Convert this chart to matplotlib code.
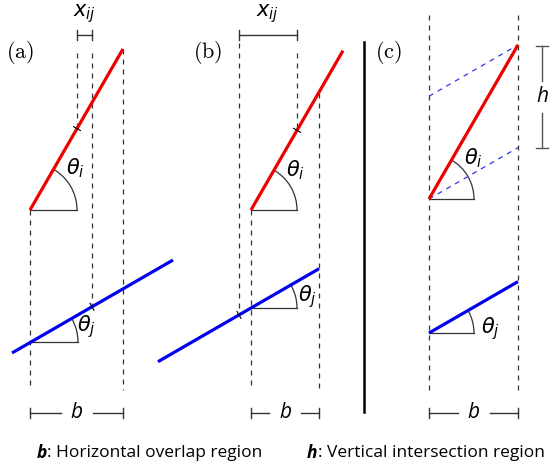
import numpy as np
import matplotlib.pyplot as plt
from matplotlib.patches import Arc

# panel labels and their anchor positions
panels = ['(a)', '(b)', '(c)']
panel_xy = [(20, 52), (208, 52), (388, 52)]

# slope angles (deg)
theta_i = 60
theta_j = 30

# red segment: start point and horizontal run
red_start = [(30, 210), (251, 210), (429, 199)]
red_dx = [93, 92, 89]

# blue segment: angle vertex, left / right x extent
blue_vertex = [(31, 342), (251, 308), (429, 333)]
blue_xlim = [(12, 173), (158, 319), (429, 518)]

arc_r = [47, 46, 45]

# dashed verticals: x, y_top, y_bottom
dash_a = [(30, 210, 390), (77, 53, 129), (92, 53, 307), (123, 49, 390)]
dash_b = [(239, 43, 315), (297, 53, 130), (251, 210, 390), (319, 93, 390)]
dash_c = [(429, 15, 390), (518, 15, 390)]

# x_ij brackets
xij_span = [(77, 92), (239, 297)]
# b brackets
b_span = [(30, 123), (251, 319), (429, 518)]
# h bracket
h_x = 542
h_span = (46, 148)

W, H = 552, 468
fig = plt.figure(figsize=(W / 100, H / 100), dpi=100)
ax = fig.add_axes([0, 0, 1, 1])
ax.set_xlim(0, W)
ax.set_ylim(H, 0)
ax.axis('off')

dcol = '#333333'
tan_i = np.tan(np.radians(theta_i))
tan_j = np.tan(np.radians(theta_j))

for x, y0, y1 in dash_a + dash_b + dash_c:
    ax.plot([x, x], [y0, y1], ls=(0, (4, 4)), c=dcol, lw=0.9)

for k in range(3):
    x0, y0 = red_start[k]
    ax.plot([x0, x0 + red_dx[k]], [y0, y0 - red_dx[k] * tan_i], c='#ee0000', lw=2.3,
            solid_capstyle='butt', zorder=3)
    ax.plot([x0, x0 + arc_r[k]], [y0, y0], c=dcol, lw=0.9)
    ax.add_patch(Arc((x0, y0), 2 * arc_r[k], 2 * arc_r[k], theta1=-theta_i, theta2=0,
                     color=dcol, lw=0.9))

    vx, vy = blue_vertex[k]
    xl, xr = blue_xlim[k]
    ax.plot([xl, xr], [vy + (vx - xl) * tan_j, vy - (xr - vx) * tan_j], c='#0000ee', lw=2.3,
            solid_capstyle='butt', zorder=3)
    ax.plot([vx, vx + arc_r[k]], [vy, vy], c=dcol, lw=0.9)
    ax.add_patch(Arc((vx, vy), 2 * arc_r[k], 2 * arc_r[k], theta1=-theta_j, theta2=0,
                     color=dcol, lw=0.9))

    ax.text(*panel_xy[k], r'$\mathrm{%s}$' % panels[k], fontsize=16, math_fontfamily='cm',
            ha='center', va='center')

# angle labels
ti_xy = [(75, 168), (295, 170), (473, 158)]
tj_xy = [(86, 327), (307, 297), (490, 329)]
for (x, y) in ti_xy:
    ax.text(x, y, r'$\theta_i$', fontsize=15, ha='center', va='center')
for (x, y) in tj_xy:
    ax.text(x, y, r'$\theta_j$', fontsize=15, ha='center', va='center')

# small crossing ticks
def tick(x, y, ang):
    a = np.radians(ang + 90)
    ax.plot([x - 4 * np.cos(a), x + 4 * np.cos(a)], [y + 4 * np.sin(a), y - 4 * np.sin(a)],
            c='k', lw=0.8, zorder=4)

tick(77, red_start[0][1] - (77 - red_start[0][0]) * tan_i, theta_i)
tick(92, blue_vertex[0][1] - (92 - blue_vertex[0][0]) * tan_j, theta_j)
tick(297, red_start[1][1] - (297 - red_start[1][0]) * tan_i, theta_i)
tick(239, blue_vertex[1][1] + (blue_vertex[1][0] - 239) * tan_j, theta_j)

# parallelogram in (c)
cx, cy = red_start[2]
cdx = red_dx[2]
ax.plot([cx, cx + cdx], [cy, cy - cdx * tan_j], ls=(0, (4, 4)), c='#3333ee', lw=0.9)
ax.plot([cx, cx + cdx], [cy - cdx * tan_i + cdx * tan_j, cy - cdx * tan_i],
        ls=(0, (4, 4)), c='#3333ee', lw=0.9)

bcol = '#333333'
# x_ij brackets
for (x0, x1) in xij_span:
    ax.plot([x0, x1], [35, 35], c=bcol, lw=1)
    ax.plot([x0, x0], [30, 40], c=bcol, lw=1)
    ax.plot([x1, x1], [30, 40], c=bcol, lw=1)
    ax.text((x0 + x1) / 2, 14, r'$x_{ij}$', fontsize=15, ha='center', va='center')

# b brackets
for (x0, x1) in b_span:
    xm = (x0 + x1) / 2
    ax.plot([x0, xm - 16], [413, 413], c=bcol, lw=1)
    ax.plot([xm + 16, x1], [413, 413], c=bcol, lw=1)
    ax.plot([x0, x0], [408, 418], c=bcol, lw=1)
    ax.plot([x1, x1], [408, 418], c=bcol, lw=1)
    ax.text(xm, 413, 'b', fontsize=15, style='italic', family='Open Sans',
            ha='center', va='center')

# h bracket
h0, h1 = h_span
hm = (h0 + h1) / 2
ax.plot([h_x, h_x], [h0, hm - 16], c='#555555', lw=1)
ax.plot([h_x, h_x], [hm + 16, h1], c='#555555', lw=1)
ax.plot([h_x - 6, h_x + 6], [h0, h0], c='#555555', lw=1)
ax.plot([h_x - 6, h_x + 6], [h1, h1], c='#555555', lw=1)
ax.text(h_x, hm, 'h', fontsize=15, style='italic', family='Open Sans',
        ha='center', va='center')

# divider
ax.plot([364, 364], [42, 412], c='k', lw=1.8)

# footnotes
notes = [(37, 'b', ': Horizontal overlap region'), (307, 'h', ': Vertical intersection region')]
for x, sym, txt in notes:
    t = ax.text(x, 453, sym, fontsize=12.5, style='italic', weight='bold', family='Open Sans',
                va='center')
    ax.annotate(txt, xy=(1, 0.5), xycoords=t, fontsize=12.5, family='Open Sans',
                va='center', ha='left')

fig.savefig('out.png', dpi=100)
